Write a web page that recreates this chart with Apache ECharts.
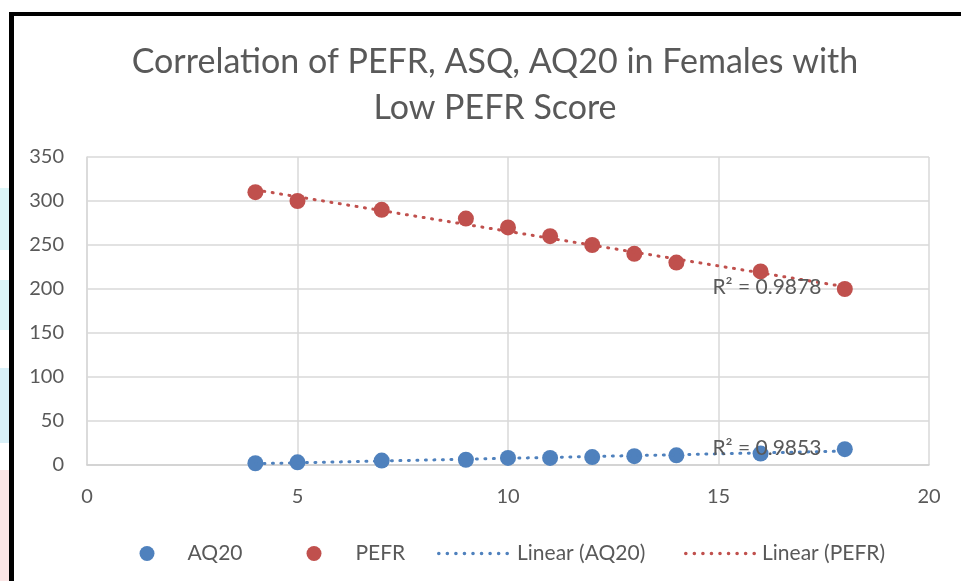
<!DOCTYPE html>
<html>
<head>
<meta charset="utf-8">
<script src="https://cdn.jsdelivr.net/npm/echarts@6/dist/echarts.min.js"></script>
<style>
  html, body { margin: 0; padding: 0; background: #fff; }
  #chart { width: 961px; height: 581px; }
</style>
</head>
<body>
<div id="chart"></div>
<script>
// data
const xValues = [4, 5, 7, 9, 10, 11, 12, 13, 14, 16, 18];
const aq20 = [2, 3, 5, 6, 8, 8, 9, 10, 11, 13, 18];
const pefr = [310, 300, 290, 280, 270, 260, 250, 240, 230, 220, 200];
const r2Labels = ['R² = 0.9853', 'R² = 0.9878'];
const r2Pos = [[16.15, 19.3], [16.15, 202]];

const BLUE = '#4F81BD';
const RED = '#C0504D';
const TXT = '#595959';
const FONT = 'Lato, "Open Sans", sans-serif';

// least squares line, drawn from first to last x
function trend(xs, ys) {
  const n = xs.length;
  let sx = 0, sy = 0, sxx = 0, sxy = 0;
  for (let i = 0; i < n; i++) {
    sx += xs[i]; sy += ys[i]; sxx += xs[i] * xs[i]; sxy += xs[i] * ys[i];
  }
  const b = (n * sxy - sx * sy) / (n * sxx - sx * sx);
  const a = (sy - b * sx) / n;
  const x0 = Math.min(...xs), x1 = Math.max(...xs);
  return [[x0, a + b * x0], [x1, a + b * x1]];
}

const pairs = ys => xValues.map((x, i) => [x, ys[i]]);

// legend icon: a row of 9 small dots like Excel's dotted trendline sample
let dotsPath = 'path://';
for (let i = 0; i < 9; i++) {
  const cx = 2 + i * 8.5;
  dotsPath += 'M' + (cx - 1.8) + ',2a1.8,1.8 0 1,0 3.6,0a1.8,1.8 0 1,0 -3.6,0z';
}

const chart = echarts.init(document.getElementById('chart'));

const dotted = color => ({ color: color, width: 3, type: [1, 7.5], cap: 'round' });

const r2Mark = (i) => ({
  symbol: 'circle',
  symbolSize: 1,
  itemStyle: { color: 'rgba(0,0,0,0)' },
  label: { show: true, position: 'inside', formatter: r2Labels[i], color: TXT, fontSize: 21, fontFamily: FONT },
  data: [{ coord: r2Pos[i] }]
});

const legendText = pad => ({ color: TXT, fontSize: 21, fontFamily: FONT, padding: [0, 0, 0, pad] });

chart.setOption({
  animation: false,
  backgroundColor: '#fff',
  title: {
    text: 'Correlation of PEFR, ASQ, AQ20 in Females with\nLow PEFR Score',
    left: 490,
    textAlign: 'center',
    top: 34,
    textStyle: { color: TXT, fontSize: 34, fontWeight: 'normal', fontFamily: FONT, lineHeight: 46 }
  },
  graphic: [
    // screenshot frame and the pale bits left of it
    { type: 'rect', shape: { x: 0, y: 188, width: 9, height: 62 }, style: { fill: '#dcf6f8' } },
    { type: 'rect', shape: { x: 0, y: 280, width: 9, height: 50 }, style: { fill: '#dcf6f8' } },
    { type: 'rect', shape: { x: 0, y: 368, width: 9, height: 75 }, style: { fill: '#d8f0f8' } },
    { type: 'rect', shape: { x: 0, y: 470, width: 9, height: 111 }, style: { fill: '#fbe6e6' } },
    { type: 'rect', shape: { x: 9, y: 12, width: 5, height: 581 }, style: { fill: '#000' } },
    { type: 'rect', shape: { x: 9, y: 12, width: 952, height: 4 }, style: { fill: '#000' } }
  ],
  legend: [
    { top: 538, left: 134.5, data: [{ name: 'AQ20', icon: 'circle' }], itemWidth: 15, itemHeight: 15, textStyle: legendText(28) },
    { top: 538, left: 301.5, data: [{ name: 'PEFR', icon: 'circle' }], itemWidth: 15, itemHeight: 15, textStyle: legendText(29) },
    { top: 538, left: 432, data: [{ name: 'Linear (AQ20)', icon: dotsPath }], itemWidth: 72, itemHeight: 4, textStyle: legendText(3) },
    { top: 538, left: 679, data: [{ name: 'Linear (PEFR)', icon: dotsPath }], itemWidth: 72, itemHeight: 4, textStyle: legendText(1) }
  ],
  grid: { left: 87, right: 32, top: 157, bottom: 116, containLabel: false },
  xAxis: {
    type: 'value', min: 0, max: 20, interval: 5,
    axisLine: { show: true, lineStyle: { color: '#d0d0d0', width: 1.5 } },
    axisTick: { show: false },
    splitLine: { show: true, lineStyle: { color: '#d9d9d9', width: 1.5 } },
    axisLabel: { color: TXT, fontSize: 20, fontFamily: FONT, margin: 22 }
  },
  yAxis: {
    type: 'value', min: 0, max: 350, interval: 50,
    axisLine: { show: true, lineStyle: { color: '#d9d9d9', width: 1.5 } },
    axisTick: { show: false },
    splitLine: { show: true, lineStyle: { color: '#d9d9d9', width: 1.5 } },
    axisLabel: { color: TXT, fontSize: 20, fontFamily: FONT, margin: 23 }
  },
  series: [
    { name: 'AQ20', type: 'scatter', symbolSize: 16, itemStyle: { color: BLUE, opacity: 1 }, data: pairs(aq20), z: 3 },
    { name: 'PEFR', type: 'scatter', symbolSize: 16, itemStyle: { color: RED, opacity: 1 }, data: pairs(pefr), z: 3 },
    { name: 'Linear (AQ20)', type: 'line', symbol: 'none', color: BLUE, lineStyle: dotted(BLUE),
      data: trend(xValues, aq20), markPoint: r2Mark(0), z: 4 },
    { name: 'Linear (PEFR)', type: 'line', symbol: 'none', color: RED, lineStyle: dotted(RED),
      data: trend(xValues, pefr), markPoint: r2Mark(1), z: 4 }
  ]
});
</script>
</body>
</html>
